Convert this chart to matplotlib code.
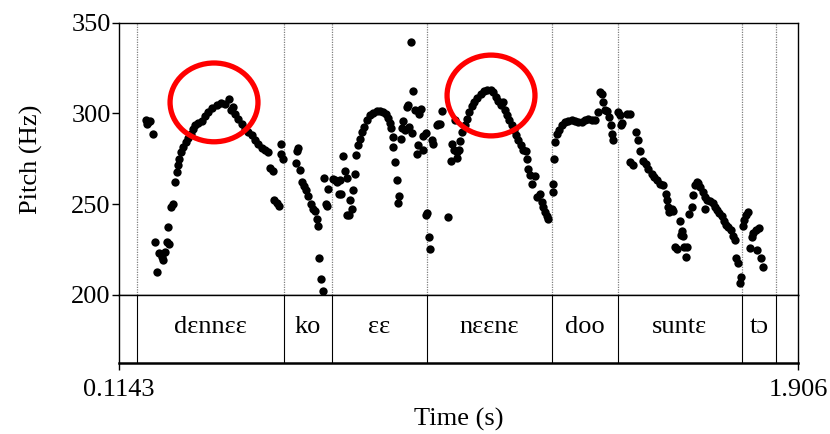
import matplotlib
matplotlib.use("Agg")
import matplotlib.pyplot as plt
from matplotlib.patches import Ellipse

plt.rcParams["font.family"] = ["Liberation Serif", "DejaVu Serif"]

# pitch track (time in s, pitch in Hz)
time_s = [
    0.1855, 0.1908, 0.1961, 0.1882, 0.2040, 0.2093, 0.2146, 0.2198, 0.2270, 0.2312,
    0.2357, 0.2418, 0.2470, 0.2428, 0.2515, 0.2576, 0.2621, 0.2666, 0.2692, 0.2726,
    0.2779, 0.2840, 0.2903, 0.2972, 0.3043, 0.3096, 0.3149, 0.3236, 0.3325, 0.3412,
    0.3500, 0.3605, 0.3721, 0.3835, 0.3940, 0.4046, 0.4098, 0.4159, 0.4204, 0.4291,
    0.4381, 0.4468, 0.4547, 0.4645, 0.4732, 0.4819, 0.4909, 0.4996, 0.5083, 0.5128,
    0.5199, 0.5241, 0.5304, 0.5365, 0.5418, 0.5410, 0.5479,
    0.5832, 0.5874, 0.5814, 0.5919, 0.5964, 0.6025, 0.6078, 0.6138, 0.6202, 0.6254,
    0.6315, 0.6360, 0.6402, 0.6429, 0.6473, 0.6518, 0.6553, 0.6624, 0.6605, 0.6666,
    0.6782, 0.6843, 0.6904, 0.6975, 0.7046, 0.7107, 0.7152, 0.6956, 0.7001, 0.7167,
    0.7239, 0.7220, 0.7284, 0.7310, 0.7371, 0.7397, 0.7458, 0.7503, 0.7547, 0.7608,
    0.7679, 0.7766, 0.7854, 0.7943, 0.8030, 0.8117, 0.8189, 0.8249, 0.8294, 0.8313,
    0.8365, 0.8381, 0.8426, 0.8471, 0.8540, 0.8497, 0.8645, 0.8603, 0.8690, 0.8576,
    0.8795, 0.8866, 0.8840, 0.8909, 0.8735, 0.8777, 0.8954, 0.9067, 0.9104, 0.9025,
    0.8999, 0.9157, 0.9244, 0.9173,
    0.9279, 0.9244, 0.9323, 0.9350, 0.9394, 0.9437, 0.9527, 0.9569, 0.9658, 0.9614,
    0.9833, 0.9923, 0.9983, 1.0054, 1.0123, 1.0141, 1.0186, 1.0054, 0.9896, 1.0009,
    1.0273, 1.0318, 1.0387, 1.0450, 1.0519, 1.0598, 1.0688, 1.0775, 1.0862, 1.0951,
    1.1020, 1.1091, 1.1152, 1.1215, 1.1284, 1.1329, 1.1374, 1.1442, 1.1506, 1.1566,
    1.1619, 1.1680, 1.1743, 1.1812, 1.1883, 1.1917, 1.1944, 1.1988, 1.2120, 1.2033,
    1.2181, 1.2252, 1.2297, 1.2339, 1.2384, 1.2429, 1.2471,
    1.2587, 1.2587, 1.2622, 1.2648, 1.2693, 1.2762, 1.2825, 1.2912, 1.3000, 1.3089,
    1.3176, 1.3263, 1.3353, 1.3440, 1.3527, 1.3617, 1.3704, 1.3775, 1.3836, 1.3881,
    1.3923, 1.3968, 1.4029, 1.4081, 1.4118, 1.4145, 1.4187,
    1.4319, 1.4363, 1.4408, 1.4382, 1.4540, 1.4627, 1.4785, 1.4846, 1.4891, 1.4627,
    1.4714, 1.4978, 1.5049, 1.5110, 1.5200, 1.5260, 1.5332, 1.5419, 1.5506, 1.5577,
    1.5612, 1.5638, 1.5664, 1.5728, 1.5770, 1.5947, 1.5991, 1.5965, 1.6018, 1.5815,
    1.5860, 1.6052, 1.6139, 1.6105, 1.6192, 1.6255, 1.6298, 1.6342, 1.6387, 1.6430,
    1.6474, 1.6546, 1.6607, 1.6667, 1.6607, 1.6739, 1.6810, 1.6871, 1.6932, 1.6984,
    1.7047, 1.7108, 1.7161, 1.7222, 1.7285, 1.7338, 1.7399, 1.7425, 1.7486, 1.7550,
    1.7532,
    1.7601, 1.7635, 1.7688, 1.7749, 1.7839, 1.7881, 1.7952, 1.8039, 1.7794, 1.7970,
    1.8076, 1.8143,
]
pitch_hz = [
    296.2, 295.1, 295.6, 294.0, 288.5, 229.1, 212.6, 223.1, 221.0, 219.2,
    223.6, 229.3, 227.9, 237.5, 248.5, 250.0, 262.3, 267.8, 271.4, 275.1,
    278.7, 281.5, 284.2, 286.7, 288.9, 291.2, 293.4, 294.7, 295.8, 298.4,
    300.7, 303.1, 304.8, 305.7, 305.0, 308.1, 301.7, 303.5, 299.8, 297.1,
    294.3, 291.6, 289.6, 287.9, 285.2, 283.0, 281.2, 280.1, 278.7, 270.2,
    268.3, 252.2, 250.4, 248.9, 283.4, 277.5, 275.1,
    279.3, 281.2, 272.7, 268.7, 262.3, 259.9, 257.7, 254.4, 250.0, 247.6,
    246.3, 241.6, 237.9, 220.2, 208.6, 202.4, 264.5, 248.9, 250.0, 258.6,
    264.1, 263.2, 262.3, 263.6, 276.4, 268.3, 264.7, 255.5, 255.9, 244.0,
    252.6, 244.0, 247.6, 258.1, 266.9, 276.9, 282.4, 286.1, 289.7, 292.5,
    296.5, 298.9, 300.2, 301.1, 301.3, 300.7, 299.8, 297.6, 294.7, 292.2,
    287.0, 281.5, 273.2, 263.6, 254.4, 250.7, 295.8, 292.2, 290.7, 286.1,
    292.5, 289.2, 339.2, 312.3, 303.5, 304.4, 302.0, 299.5, 302.2, 282.8,
    277.9, 287.4, 289.2, 279.7,
    245.2, 244.0, 231.7, 225.1, 285.2, 283.0, 293.4, 294.3, 301.3, 294.3,
    242.7, 283.4, 280.1, 278.7, 279.7, 284.8, 289.7, 275.7, 273.8, 296.2,
    293.4, 297.1, 300.7, 303.9, 306.2, 308.6, 310.8, 312.1, 313.0, 313.0,
    311.7, 309.3, 307.1, 304.4, 306.2, 302.0, 298.9, 296.2, 293.4, 290.7,
    287.9, 285.2, 282.4, 280.1, 279.3, 275.1, 269.6, 265.9, 265.4, 261.4,
    254.0, 255.5, 251.3, 248.5, 245.8, 243.4, 242.1,
    256.8, 261.4, 275.1, 284.2, 288.9, 291.0, 293.4, 295.2, 295.8, 296.2,
    295.8, 295.2, 295.2, 296.5, 297.1, 296.5, 296.2, 300.7, 311.7, 310.8,
    306.2, 301.7, 301.3, 298.0, 293.4, 288.5, 285.2,
    300.7, 298.9, 294.7, 293.4, 299.8, 299.8, 289.7, 285.2, 279.3, 273.2,
    271.4, 273.8, 272.4, 269.6, 266.9, 265.0, 263.2, 261.4, 260.4, 255.5,
    252.2, 248.5, 245.8, 247.1, 246.3, 240.8, 235.3, 233.0, 232.4, 226.5,
    225.1, 226.5, 226.2, 221.0, 244.5, 248.2, 255.3, 260.4, 262.3, 261.7,
    259.5, 256.8, 254.0, 252.6, 247.1, 251.8, 250.4, 248.5, 246.7, 245.2,
    243.4, 240.8, 238.5, 237.2, 235.7, 232.4, 230.2, 220.2, 217.7, 210.1,
    206.4,
    237.9, 241.2, 244.0, 245.8, 231.7, 234.2, 235.7, 236.7, 225.7, 224.7,
    220.2, 215.6,
]

# text grid tier
boundaries = [0.1626, 0.5497, 0.6772, 0.9263, 1.2561, 1.4319, 1.7575, 1.8480]
syllables = ["dɛnnɛɛ", "ko", "ɛɛ", "nɛɛnɛ", "doo", "suntɛ", "tɔ"]

t_min, t_max = 0.1143, 1.906
f_min, f_max = 200, 350
y_ticks = [200, 250, 300, 350]

# highlighted peaks (centre time, centre Hz, width s, height Hz)
circles = [(0.365, 306.1, 0.232, 43.4), (1.096, 309.9, 0.232, 44.5)]

fig = plt.figure(figsize=(8.3, 4.34), dpi=100)
ax = fig.add_axes([0.1434, 0.3203, 0.818, 0.6274])
tier = fig.add_axes([0.1434, 0.1629, 0.818, 0.1574], sharex=ax)

for b in boundaries:
    ax.axvline(b, color="#808080", linestyle=(0, (1, 1)), linewidth=0.9, zorder=1)
    tier.axvline(b, color="black", linewidth=0.8)

ax.plot(time_s, pitch_hz, "o", color="black", markersize=6.0, markeredgewidth=0, zorder=3)

for cx, cy, w, h in circles:
    ax.add_patch(Ellipse((cx, cy), w, h, fill=False, edgecolor="#ff0000",
                         linewidth=3.8, zorder=4))

ax.set_xlim(t_min, t_max)
ax.set_ylim(f_min, f_max)
ax.set_yticks(y_ticks)
ax.tick_params(axis="y", direction="out", length=5, width=1, labelsize=19, pad=1)
ax.tick_params(axis="x", bottom=False, labelbottom=False)
ax.set_ylabel("Pitch (Hz)", fontsize=19)
ax.yaxis.set_label_coords(-0.112, 0.5)
for s in ax.spines.values():
    s.set_linewidth(1.0)

for i, lab in enumerate(syllables):
    mid = (boundaries[i] + boundaries[i + 1]) / 2
    tier.text(mid, 0.53, lab, ha="center", va="center", fontsize=19,
              transform=tier.get_xaxis_transform())

tier.set_yticks([])
tier.set_ylim(0, 1)
tier.set_xticks([t_min, t_max])
tier.set_xticklabels(["0.1143", "1.906"])
tier.tick_params(axis="x", direction="out", length=5, width=1, labelsize=19, pad=6)
tier.spines["bottom"].set_linewidth(1.8)
tier.spines["top"].set_linewidth(1.0)
tier.spines["left"].set_linewidth(1.0)
tier.spines["right"].set_linewidth(1.0)
tier.set_xlabel("Time (s)", fontsize=19)
tier.xaxis.set_label_coords(0.5, -0.66)

fig.savefig("out.png", dpi=100)
